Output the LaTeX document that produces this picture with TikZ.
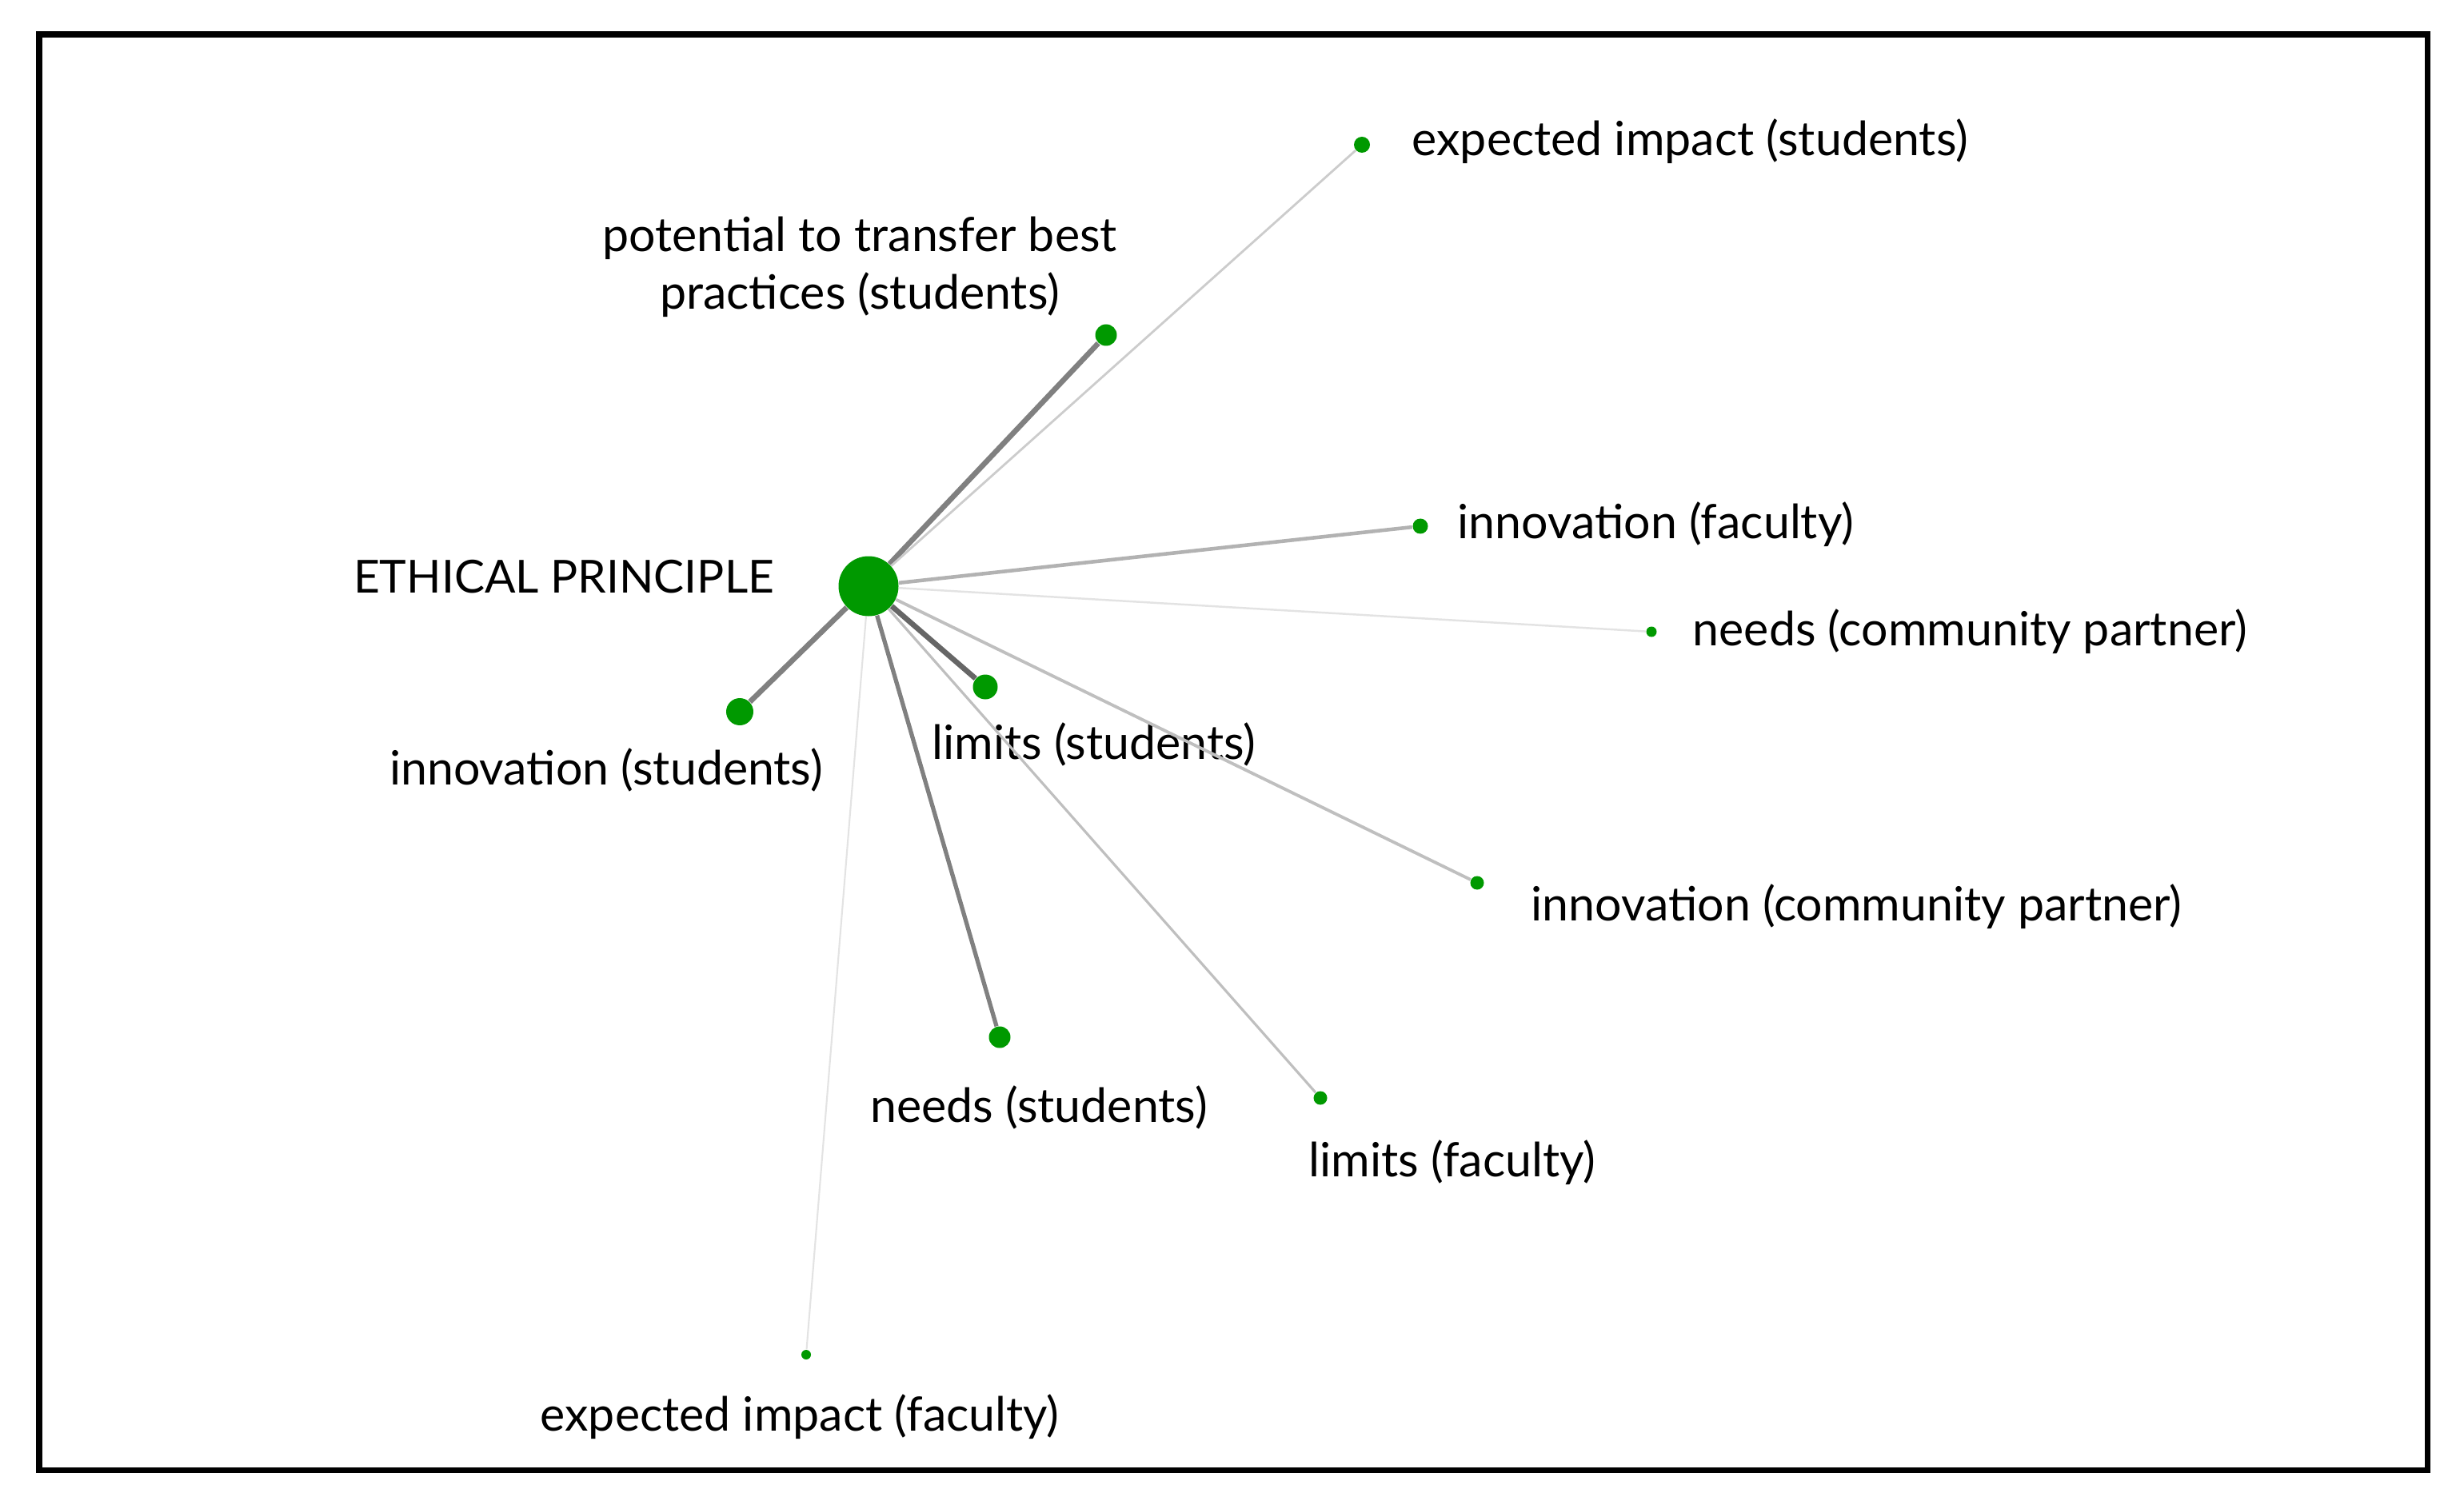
\documentclass[tikz,border=0pt]{standalone}
\usepackage{fontspec}
\setmainfont{Lato}
\usepackage{tikz}
\usetikzlibrary{positioning}
\definecolor{dotgreen}{RGB}{0,153,0}

\begin{document}
\begin{tikzpicture}[
    dot/.style={circle,fill=dotgreen,inner sep=0pt,minimum size=#1},
    lbl/.style={font=\fontsize{16.8}{20.5}\selectfont,inner sep=0pt},
    strong/.style={line width=1.9pt,draw=black!50},
    medium/.style={line width=1.3pt,draw=black!30},
    light/.style={line width=0.8pt,draw=black!20},
    faint/.style={line width=0.7pt,draw=black!11}]
    \useasboundingbox (0,0) rectangle (30.81,18.81);
    \draw[line width=2pt] (0.49,0.43) rectangle (30.35,18.38);
    % hub and its codes
    \node[dot=0.75cm] (hub) at (10.86,11.48) {};
    \node[dot=0.2cm]  (expstu) at (17.03,17.00) {};
    \node[dot=0.27cm] (potstu) at (13.83,14.62) {};
    \node[dot=0.19cm] (innfac) at (17.76,12.23) {};
    \node[dot=0.13cm] (needcp) at (20.65,10.91) {};
    \node[dot=0.34cm] (innstu) at (9.25,9.91) {};
    \node[dot=0.31cm] (limstu) at (12.32,10.22) {};
    \node[dot=0.17cm] (inncp) at (18.47,7.77) {};
    \node[dot=0.27cm] (needstu) at (12.50,5.84) {};
    \node[dot=0.17cm] (limfac) at (16.51,5.08) {};
    \node[dot=0.12cm] (expfac) at (10.08,1.87) {};
    % labels
    \node[lbl,font=\fontsize{16.2}{20}\selectfont] (hublbl) at (7.05,11.60) {ETHICAL PRINCIPLE};
    \node[lbl,anchor=west] (expstulbl) at (17.65,17.04) {expected impact (students)};
    \node[lbl,align=center] (potstulbl) at (10.75,15.47) {potential to transfer best\\practices (students)};
    \node[lbl,anchor=west] (innfaclbl) at (18.22,12.25) {innovation (faculty)};
    \node[lbl,anchor=west] (needcplbl) at (21.16,10.91) {needs (community partner)};
    \node[lbl] (innstulbl) at (7.58,9.18) {innovation (students)};
    \node[lbl] (limstulbl) at (13.68,9.50) {limits (students)};
    \node[lbl,anchor=west] (inncplbl) at (19.14,7.47) {innovation (community partner)};
    \node[lbl] (needstulbl) at (12.99,4.96) {needs (students)};
    \node[lbl] (limfaclbl) at (18.16,4.27) {limits (faculty)};
    \node[lbl] (expfaclbl) at (10.00,1.09) {expected impact (faculty)};
    % ties
    \draw[strong] (hub) -- (potstu);
    \draw[light] (hub) -- (expstu);
    \draw[medium] (hub) -- (innfac);
    \draw[faint] (hub) -- (needcp);
    \draw[strong] (hub) -- (innstu);
    \draw[strong,draw=black!60] (hub) -- (limstu);
    \draw[medium,line width=1.1pt,draw=black!25] (hub) -- (inncp);
    \draw[strong,line width=1.5pt] (hub) -- (needstu);
    \draw[light,line width=0.9pt,draw=black!25] (hub) -- (limfac);
    \draw[faint,line width=0.6pt] (hub) -- (expfac);
\end{tikzpicture}
\end{document}
